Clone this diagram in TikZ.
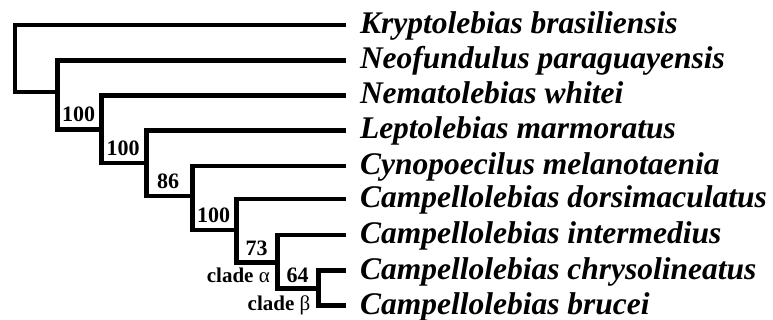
\documentclass[tikz,border=0pt]{standalone}
\usepackage{fontspec}
\setmainfont{Liberation Serif}
\begin{document}
\begin{tikzpicture}[x=1pt,y=-1pt,
  br/.style={line width=4.8pt, line join=miter, black},
  leaf/.style={anchor=west, inner xsep=14pt, inner ysep=0pt, outer sep=0pt, text height=20pt, text depth=3pt, font=\fontsize{31.5}{34}\selectfont\bfseries\itshape},
  bs/.style={anchor=base, inner sep=0pt, font=\fontsize{22}{24}\selectfont\bfseries},
  cl/.style={anchor=base east, inner sep=0pt, font=\fontsize{21}{24}\selectfont\bfseries}]
\fill[white] (0,0) rectangle (773,320);
\useasboundingbox (0,0) rectangle (773,320);
% leaves
\node[leaf] (kb) at (346,25) {Kryptolebias brasiliensis};
\node[leaf] (np) at (346,60.5) {Neofundulus paraguayensis};
\node[leaf] (nw) at (346,95.5) {Nematolebias whitei};
\node[leaf] (lm) at (346,130.5) {Leptolebias marmoratus};
\node[leaf] (cm) at (346,166) {Cynopoecilus melanotaenia};
\node[leaf] (cd) at (346,199) {Campellolebias dorsimaculatus};
\node[leaf] (ci) at (346,235) {Campellolebias intermedius};
\node[leaf] (cc) at (346,270.5) {Campellolebias chrysolineatus};
\node[leaf] (cb) at (346,305.5) {Campellolebias brucei};
% internal nodes
\coordinate (r) at (15,92);
\coordinate (n1) at (57.5,92);
\coordinate (n2) at (101.5,129.5);
\coordinate (n3) at (146.5,163);
\coordinate (n4) at (192.5,196);
\coordinate (n5) at (236.5,230);
\coordinate (n6) at (277.5,262.5);
\coordinate (n7) at (318.5,288.5);
% branches
\draw[br] (kb.west) -| (r) -- (n1);
\draw[br] (np.west) -| (n1 |- n2) -- (n2);
\draw[br] (nw.west) -| (n2 |- n3) -- (n3);
\draw[br] (lm.west) -| (n3 |- n4) -- (n4);
\draw[br] (cm.west) -| (n4 |- n5) -- (n5);
\draw[br] (cd.west) -| (n5 |- n6) -- (n6);
\draw[br] (ci.west) -| (n6 |- n7) -- (n7);
\draw[br] (cc.west) -| (n7 |- cb.west) -- (cb.west);
% support values
\node[bs] (s2) at (78.5,122) {100};
\node[bs] (s3) at (123,155.5) {100};
\node[bs] (s4) at (168,189) {86};
\node[bs] (s5) at (213.5,223) {100};
\node[bs] (s6) at (256.5,255.5) {73};
\node[bs] (s7) at (297.5,282.5) {64};
% clade labels
\node[cl] (ca) at (270,282) {clade {\mdseries α}};
\node[cl] (cbeta) at (310.5,310) {clade {\mdseries β}};
\end{tikzpicture}
\end{document}
